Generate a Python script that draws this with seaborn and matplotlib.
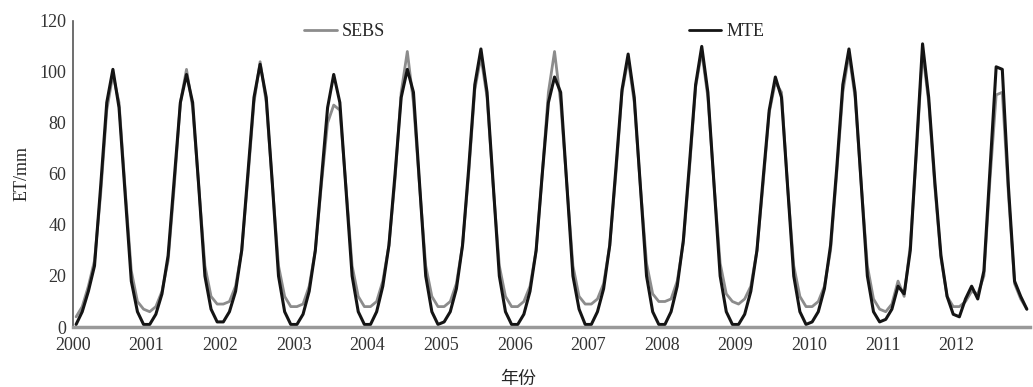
import numpy as np
import pandas as pd
import matplotlib
matplotlib.use("Agg")
import matplotlib.pyplot as plt
import seaborn as sns

years = list(range(2000, 2013))
months = list(range(12))

mte_2000 = [1, 6, 14, 24, 55, 88, 101, 86, 52, 18, 6, 1]
mte_2001 = [1, 5, 13, 28, 58, 88, 99, 88, 55, 20, 7, 2]
mte_2002 = [2, 6, 14, 30, 60, 90, 103, 90, 56, 20, 6, 1]
mte_2003 = [1, 5, 14, 30, 58, 86, 99, 88, 54, 20, 6, 1]
mte_2004 = [1, 6, 16, 32, 60, 90, 101, 92, 56, 20, 6, 1]
mte_2005 = [2, 6, 15, 32, 62, 95, 109, 92, 56, 20, 6, 1]
mte_2006 = [1, 5, 14, 30, 60, 88, 98, 92, 56, 20, 7, 1]
mte_2007 = [1, 6, 15, 32, 62, 93, 107, 90, 55, 20, 6, 1]
mte_2008 = [1, 6, 16, 34, 64, 95, 110, 92, 56, 20, 6, 1]
mte_2009 = [1, 5, 14, 30, 58, 85, 98, 90, 55, 20, 6, 1]
mte_2010 = [2, 6, 15, 32, 62, 95, 109, 92, 56, 20, 6, 2]
mte_2011 = [3, 7, 16, 13, 30, 70, 111, 90, 57, 28, 12, 5]
mte_2012 = [4, 11, 16, 11, 22, 62, 102, 101, 55, 18, 12, 7]

sebs_2000 = [4, 8, 16, 26, 52, 85, 99, 88, 54, 22, 10, 7]
sebs_2001 = [6, 8, 14, 26, 55, 88, 101, 86, 55, 24, 12, 9]
sebs_2002 = [9, 10, 16, 30, 58, 88, 104, 88, 56, 24, 12, 8]
sebs_2003 = [8, 9, 16, 30, 56, 80, 87, 85, 55, 24, 12, 8]
sebs_2004 = [8, 10, 18, 32, 58, 92, 108, 88, 55, 24, 12, 8]
sebs_2005 = [8, 10, 17, 32, 60, 93, 106, 90, 55, 24, 12, 8]
sebs_2006 = [8, 10, 16, 30, 60, 92, 108, 88, 56, 24, 12, 9]
sebs_2007 = [9, 11, 17, 32, 60, 92, 105, 88, 55, 25, 13, 10]
sebs_2008 = [10, 11, 18, 33, 62, 94, 108, 90, 56, 25, 13, 10]
sebs_2009 = [9, 11, 16, 30, 56, 84, 96, 92, 55, 24, 12, 8]
sebs_2010 = [8, 10, 16, 30, 60, 92, 107, 90, 56, 24, 11, 7]
sebs_2011 = [6, 9, 18, 12, 32, 68, 108, 88, 55, 27, 12, 8]
sebs_2012 = [8, 10, 14, 13, 20, 58, 91, 92, 52, 17, 11, 7]

mte = [mte_2000, mte_2001, mte_2002, mte_2003, mte_2004, mte_2005, mte_2006,
       mte_2007, mte_2008, mte_2009, mte_2010, mte_2011, mte_2012]
sebs = [sebs_2000, sebs_2001, sebs_2002, sebs_2003, sebs_2004, sebs_2005, sebs_2006,
        sebs_2007, sebs_2008, sebs_2009, sebs_2010, sebs_2011, sebs_2012]

series_names = ["SEBS", "MTE"]
tick_labels = [str(y) for y in years]
y_ticks = [0, 20, 40, 60, 80, 100, 120]

rows = []
for name, data in zip(series_names, [sebs, mte]):
    for yi, y in enumerate(years):
        for m in months:
            rows.append({"t": y + (m + 0.5) / 12.0, "ET": data[yi][m], "series": name})
df = pd.DataFrame(rows)

sns.set_theme(style="white")
plt.rcParams["font.family"] = ["Liberation Serif", "Noto Sans CJK SC", "DejaVu Sans"]
FS = 13

fig = plt.figure(figsize=(10.33, 3.87), dpi=100)
ax = fig.add_axes([0.0707, 0.155, 0.9263, 0.791])

sns.lineplot(data=df, x="t", y="ET", hue="series", hue_order=series_names,
             palette={"SEBS": "#8c8c8c", "MTE": "#141414"}, ax=ax,
             estimator=None, sort=True, legend=True)
for line, lw in zip(ax.get_lines()[:2], [2.0, 2.2]):
    line.set_linewidth(lw)

ax.set_xlim(2000, 2013)
ax.set_ylim(0, 120)
ax.set_xticks(years)
ax.set_xticklabels(tick_labels, fontsize=FS)
ax.set_yticks(y_ticks)
ax.set_yticklabels([str(v) for v in y_ticks], fontsize=FS)
ax.tick_params(axis="both", direction="out", length=3, width=1, pad=2, colors="#333333")
ax.tick_params(axis="x", length=0, pad=7)

for s in ["top", "right"]:
    ax.spines[s].set_visible(False)
ax.spines["left"].set_color("#555555")
ax.spines["left"].set_linewidth(1.2)
ax.spines["bottom"].set_color("#999999")
ax.spines["bottom"].set_linewidth(2.5)

ax.set_xlabel("年份", fontsize=FS, labelpad=2)
ax.xaxis.set_label_coords(0.465, -0.145)
ax.set_ylabel("ET/mm", fontsize=FS, labelpad=6)

handles, labels = ax.get_legend_handles_labels()
for h in handles:
    h.set_linewidth(2)
leg = ax.legend(handles, labels, ncol=2, loc="center", bbox_to_anchor=(0.482, 0.965),
                frameon=False, fontsize=FS, handlelength=1.8, handletextpad=0.3,
                columnspacing=16.8, borderpad=0)

fig.savefig("out.png", dpi=100)
